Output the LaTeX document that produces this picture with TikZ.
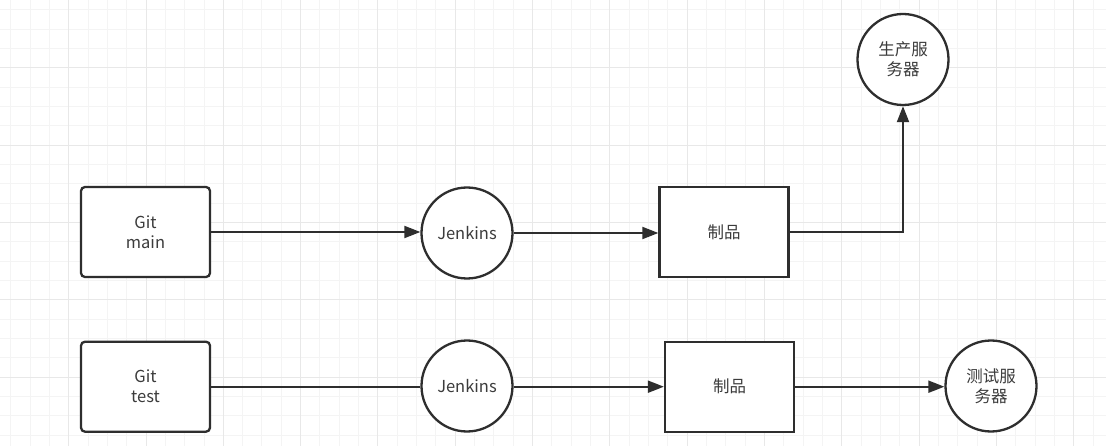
\documentclass[tikz,border=0pt]{standalone}
\usepackage{fontspec}
\setmainfont{Noto Sans CJK SC}
\usetikzlibrary{arrows.meta}
\definecolor{ink}{HTML}{2E2E2E}
\definecolor{txt}{HTML}{3C3C3C}
\definecolor{gridminor}{HTML}{F4F4F4}
\definecolor{gridmajor}{HTML}{E8E8E8}
\tikzset{
  base/.style={draw=ink, line width=2.3pt, fill=white, text=txt, align=center, inner sep=0pt,
    font=\fontsize{16.5pt}{20pt}\selectfont},
  gitbox/.style={base, rectangle, rounded corners=4pt, minimum width=129pt, minimum height=90pt},
  prodbox/.style={base, rectangle, minimum width=129pt, minimum height=90pt},
  roundnode/.style={base, circle, minimum size=91pt},
  conn/.style={draw=ink, line width=2pt},
  arr/.style={conn, -{Triangle[length=16pt,width=12pt]}}
}
\begin{document}
\begin{tikzpicture}[x=1pt,y=-1pt]
  \fill[white] (0,0) rectangle (1106,446);
  \useasboundingbox (0,0) rectangle (1106,446);
  % grid
  \foreach \i in {0,...,57} {
    \pgfmathsetmacro{\gx}{10.7+\i*19.33}
    \draw[gridminor, line width=1pt] (\gx,0) -- (\gx,446);
  }
  \foreach \i in {0,...,22} {
    \pgfmathsetmacro{\gy}{10+\i*19.33}
    \draw[gridminor, line width=1pt] (0,\gy) -- (1106,\gy);
  }
  \foreach \i in {0,...,14} {
    \pgfmathsetmacro{\gx}{68.7+\i*77.32}
    \draw[gridmajor, line width=1pt] (\gx,0) -- (\gx,446);
  }
  \foreach \i in {0,...,5} {
    \pgfmathsetmacro{\gy}{68+\i*77.32}
    \draw[gridmajor, line width=1pt] (0,\gy) -- (1106,\gy);
  }
  % nodes
  \node[gitbox] (gitmain) at (145.5,232) {Git\\main};
  \node[roundnode] (jenk1) at (467,233) {Jenkins};
  \node[prodbox] (prod1) at (724,232) {制品};
  \node[roundnode] (prodsrv) at (903,59.5) {生产服\\务器};
  \node[gitbox] (gittest) at (145.5,386.7) {Git\\test};
  \node[roundnode] (jenk2) at (467,386) {Jenkins};
  \node[prodbox] (prod2) at (729.5,386.7) {制品};
  \node[roundnode] (testsrv) at (991,386) {测试服\\务器};
  % connectors
  \draw[arr] (gitmain.east) -- (gitmain.east -| jenk1.west);
  \draw[arr] (jenk1.east) -- (jenk1.east -| prod1.west);
  \draw[arr] (prod1.east) -| (prodsrv.south);
  \draw[conn] (gittest.east) -- (gittest.east -| jenk2.west);
  \draw[arr] (jenk2.east |- prod2.west) -- (prod2.west);
  \draw[arr] (prod2.east) -- (prod2.east -| testsrv.west);
\end{tikzpicture}
\end{document}
